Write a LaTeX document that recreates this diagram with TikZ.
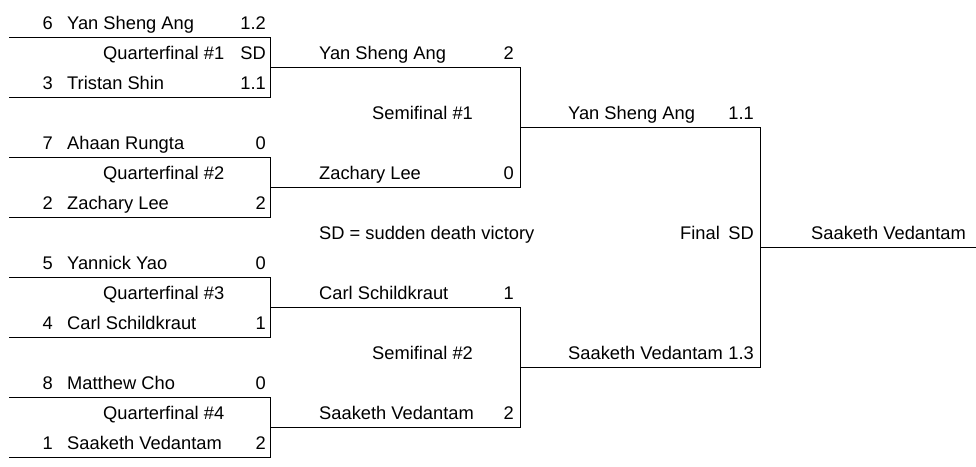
\documentclass[tikz,border=0pt]{standalone}
\usepackage{fontspec}
\setmainfont{Liberation Sans}
\begin{document}
\begin{tikzpicture}[x=1pt,y=-1pt,
  lbl/.style={font=\fontsize{18.3}{22}\selectfont, inner sep=0pt, anchor=base west, yshift=-1pt},
  lblr/.style={lbl, anchor=base east},
  bline/.style={line width=1pt, black}]
\useasboundingbox (0,0) rectangle (976,466);
% ---------- coordinates of bracket corners ----------
% quarterfinals (x 9 -> 270)
\coordinate (q1tl) at (9,37);  \coordinate (q1tr) at (270,37);
\coordinate (q1bl) at (9,97);  \coordinate (q1br) at (270,97);
\coordinate (q2tl) at (9,157); \coordinate (q2tr) at (270,157);
\coordinate (q2bl) at (9,217); \coordinate (q2br) at (270,217);
\coordinate (q3tl) at (9,277); \coordinate (q3tr) at (270,277);
\coordinate (q3bl) at (9,337); \coordinate (q3br) at (270,337);
\coordinate (q4tl) at (9,397); \coordinate (q4tr) at (270,397);
\coordinate (q4bl) at (9,457); \coordinate (q4br) at (270,457);
% semifinals (x 270 -> 520)
\coordinate (s1tl) at (270,67);  \coordinate (s1tr) at (520,67);
\coordinate (s1bl) at (270,187); \coordinate (s1br) at (520,187);
\coordinate (s2tl) at (270,307); \coordinate (s2tr) at (520,307);
\coordinate (s2bl) at (270,427); \coordinate (s2br) at (520,427);
% final (x 520 -> 760)
\coordinate (ftl) at (520,127); \coordinate (ftr) at (760,127);
\coordinate (fbl) at (520,367); \coordinate (fbr) at (760,367);
% champion
\coordinate (cl) at (760,247); \coordinate (cr) at (976,247);
% ---------- lines ----------
\draw[bline] (q1tl) -- (q1tr) -- (q1br) -- (q1bl);
\draw[bline] (q2tl) -- (q2tr) -- (q2br) -- (q2bl);
\draw[bline] (q3tl) -- (q3tr) -- (q3br) -- (q3bl);
\draw[bline] (q4tl) -- (q4tr) -- (q4br) -- (q4bl);
\draw[bline] (s1tl) -- (s1tr) -- (s1br) -- (s1bl);
\draw[bline] (s2tl) -- (s2tr) -- (s2br) -- (s2bl);
\draw[bline] (ftl) -- (ftr) -- (fbr) -- (fbl);
\draw[bline] (cl) -- (cr);
% ---------- quarterfinal texts ----------
\node[lblr] (n6) at (53,28) {6};  \node[lbl] (p6) at (67,28) {Yan Sheng Ang};      \node[lblr] (c6) at (266,28) {1.2};
\node[lbl] (qf1) at (103,58) {Quarterfinal \#1};                                    \node[lblr] (qf1sd) at (266,58) {SD};
\node[lblr] (n3) at (53,88) {3};  \node[lbl] (p3) at (67,88) {Tristan Shin};        \node[lblr] (c3) at (266,88) {1.1};
\node[lblr] (n7) at (53,148) {7}; \node[lbl] (p7) at (67,148) {Ahaan Rungta};       \node[lblr] (c7) at (266,148) {0};
\node[lbl] (qf2) at (103,178) {Quarterfinal \#2};
\node[lblr] (n2) at (53,208) {2}; \node[lbl] (p2) at (67,208) {Zachary Lee};        \node[lblr] (c2) at (266,208) {2};
\node[lblr] (n5) at (53,268) {5}; \node[lbl] (p5) at (67,268) {Yannick Yao};        \node[lblr] (c5) at (266,268) {0};
\node[lbl] (qf3) at (103,298) {Quarterfinal \#3};
\node[lblr] (n4) at (53,328) {4}; \node[lbl] (p4) at (67,328) {Carl Schildkraut};   \node[lblr] (c4) at (266,328) {1};
\node[lblr] (n8) at (53,388) {8}; \node[lbl] (p8) at (67,388) {Matthew Cho};        \node[lblr] (c8) at (266,388) {0};
\node[lbl] (qf4) at (103,418) {Quarterfinal \#4};
\node[lblr] (n1) at (53,448) {1}; \node[lbl] (p1) at (67,448) {Saaketh Vedantam};   \node[lblr] (c1) at (266,448) {2};
% ---------- semifinal texts ----------
\node[lbl] (sp1) at (319,58) {Yan Sheng Ang};      \node[lblr] (sc1) at (514,58) {2};
\node[lbl] (sf1) at (372,118) {Semifinal \#1};
\node[lbl] (sp2) at (319,178) {Zachary Lee};       \node[lblr] (sc2) at (514,178) {0};
\node[lbl] (note) at (319,238) {SD = sudden death victory};
\node[lbl] (sp3) at (319,298) {Carl Schildkraut};  \node[lblr] (sc3) at (514,298) {1};
\node[lbl] (sf2) at (372,358) {Semifinal \#2};
\node[lbl] (sp4) at (319,418) {Saaketh Vedantam};  \node[lblr] (sc4) at (514,418) {2};
% ---------- final texts ----------
\node[lbl] (fp1) at (568,118) {Yan Sheng Ang};     \node[lblr] (fc1) at (754,118) {1.1};
\node[lbl] (fin) at (680,238) {Final};             \node[lblr] (finsd) at (754,238) {SD};
\node[lbl] (fp2) at (568,358) {Saaketh Vedantam};  \node[lblr] (fc2) at (754,358) {1.3};
% ---------- champion ----------
\node[lbl] (champ) at (811,238) {Saaketh Vedantam};
\end{tikzpicture}
\end{document}
